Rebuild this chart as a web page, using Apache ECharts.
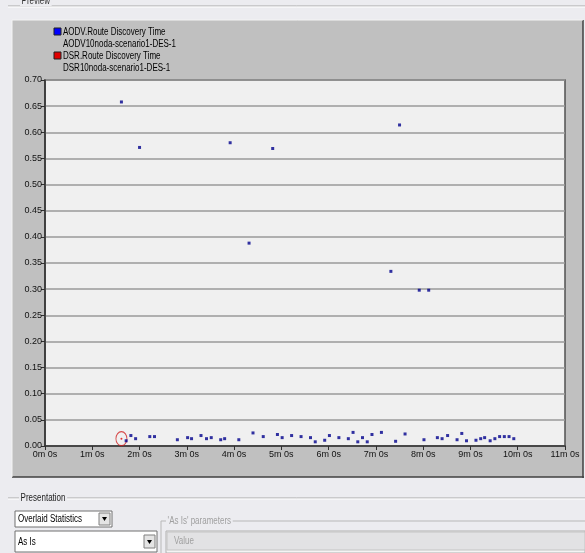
<!DOCTYPE html>
<html>
<head>
<meta charset="utf-8">
<script src="https://cdn.jsdelivr.net/npm/echarts@6/dist/echarts.min.js"></script>
<style>
html,body{margin:0;padding:0;background:#ececf0;}
#c{width:585px;height:553px;}
</style>
</head>
<body>
<div id="c"></div>
<script>
// ---- data (time in seconds, value in seconds) ----
var aodvTimes = [97,103,109,115,120,133,139,168,181,186,198,205,211,223,228,235,246,259,264,277,289,295,301,313,325,337,343,355,361,373,385,391,397,403,409,415,427,439,445,450,457,475,481,487,498,504,511,523,529,535,547,553,558,565,571,577,583,589,595];
var aodvValues = [0.658,0.010,0.020,0.014,0.571,0.018,0.018,0.012,0.016,0.014,0.020,0.014,0.016,0.012,0.014,0.580,0.012,0.388,0.025,0.018,0.569,0.022,0.016,0.020,0.018,0.016,0.008,0.011,0.020,0.016,0.014,0.026,0.008,0.016,0.008,0.022,0.026,0.334,0.009,0.614,0.023,0.298,0.012,0.298,0.016,0.014,0.020,0.012,0.024,0.010,0.011,0.014,0.016,0.010,0.014,0.018,0.018,0.018,0.014];
var dsrTimes = [97];
var dsrValues = [0.014];
var seriesNames = ['AODV.Route Discovery Time','DSR.Route Discovery Time'];
var scenarioNames = ['AODV10noda-scenario1-DES-1','DSR10noda-scenario1-DES-1'];
var xTickMinutes = [0,1,2,3,4,5,6,7,8,9,10,11];

var FONT = '"Liberation Sans Narrow","Liberation Sans",Arial,sans-serif';
var SX = 0.8; // narrow look for UI text
function pairs(xs, ys){ return xs.map(function(x,i){ return [x, ys[i]]; }); }
function txt(x, y, s, fill, extra){
  var st = {text:s, font:'10px '+FONT, fill:fill||'#000', verticalAlign:'middle'};
  if (extra) for (var k in extra) st[k] = extra[k];
  return {type:'text', x:x, y:y, scaleX:SX, style:st};
}

var chart = echarts.init(document.getElementById('c'), null, {renderer:'canvas'});

var graphics = [
  // outer "Preview" groupbox
  {type:'line', shape:{x1:8,y1:6,x2:585,y2:6}, style:{stroke:'#a8a8a8',lineWidth:1}, z:-20},
  {type:'line', shape:{x1:8,y1:7,x2:585,y2:7}, style:{stroke:'#ffffff',lineWidth:1}, z:-20},
  txt(20, 1, 'Preview', '#333', {backgroundColor:'#ececf0', padding:[0,2]}),
  // grey chart panel
  {type:'rect', shape:{x:12,y:20,width:571,height:457}, style:{fill:'#c0c0c0',stroke:null}, z:-10},
  {type:'line', shape:{x1:583,y1:20,x2:583,y2:478}, style:{stroke:'#404040',lineWidth:1.5}, z:-9},
  {type:'line', shape:{x1:12,y1:477,x2:584,y2:477}, style:{stroke:'#404040',lineWidth:1.5}, z:-9},
  {type:'line', shape:{x1:12,y1:20,x2:583,y2:20}, style:{stroke:'#f4f4f4',lineWidth:1}, z:-9},
  {type:'line', shape:{x1:12,y1:20,x2:12,y2:477}, style:{stroke:'#f4f4f4',lineWidth:1}, z:-9},
  // legend
  {type:'rect', shape:{x:54,y:28,width:7,height:7}, style:{fill:'#0000ff',stroke:'#202020',lineWidth:1}},
  txt(63, 32, seriesNames[0]),
  txt(63, 44, scenarioNames[0]),
  {type:'rect', shape:{x:54,y:52,width:7,height:7}, style:{fill:'#e00000',stroke:'#202020',lineWidth:1}},
  txt(63, 56, seriesNames[1]),
  txt(63, 68, scenarioNames[1]),
  // Presentation groupbox
  {type:'line', shape:{x1:8,y1:498,x2:585,y2:498}, style:{stroke:'#a8a8a8',lineWidth:1}},
  {type:'line', shape:{x1:8,y1:499,x2:585,y2:499}, style:{stroke:'#ffffff',lineWidth:1}},
  txt(19, 498, 'Presentation', '#222', {backgroundColor:'#ececf0', padding:[0,2]}),
  // dropdown 1
  {type:'rect', shape:{x:15,y:511,width:97,height:16}, style:{fill:'#ffffff',stroke:'#707070',lineWidth:1}},
  txt(18, 519, 'Overlaid Statistics'),
  {type:'rect', shape:{x:99,y:513,width:11,height:12}, style:{fill:'#e4e4e4',stroke:'#808080',lineWidth:1}},
  {type:'polygon', shape:{points:[[102,517],[107,517],[104.5,521]]}, style:{fill:'#000'}},
  // dropdown 2
  {type:'rect', shape:{x:15,y:531,width:142,height:21}, style:{fill:'#ffffff',stroke:'#707070',lineWidth:1}},
  txt(18, 542, 'As Is'),
  {type:'rect', shape:{x:144,y:535,width:11,height:13}, style:{fill:'#e4e4e4',stroke:'#808080',lineWidth:1}},
  {type:'polygon', shape:{points:[[147,540],[152,540],[149.5,544]]}, style:{fill:'#000'}},
  // 'As Is' parameters groupbox
  {type:'line', shape:{x1:161,y1:521,x2:585,y2:521}, style:{stroke:'#b8b8b8',lineWidth:1}},
  {type:'line', shape:{x1:161,y1:521,x2:161,y2:553}, style:{stroke:'#b8b8b8',lineWidth:1}},
  txt(166, 521, "'As Is' parameters", '#a0a0a0', {backgroundColor:'#ececf0', padding:[0,2]}),
  {type:'rect', shape:{x:166,y:531,width:419,height:22}, style:{fill:'#f4f4f4',stroke:'#b0b0b0',lineWidth:1}},
  {type:'rect', shape:{x:167,y:532,width:418,height:18}, style:{fill:'#e2e2e4',stroke:'#c4c4c4',lineWidth:1}},
  txt(174, 541, 'Value', '#a0a0a0')
];

var option = {
  backgroundColor:'#ececf0',
  animation:false,
  graphic: graphics,
  grid:{left:45, top:80, right:20, bottom:107, show:true, backgroundColor:'#f0f0f0', borderColor:'#505050', borderWidth:1.5, containLabel:false},
  xAxis:{
    type:'value', min:0, max:660, interval:60,
    axisLine:{show:true, lineStyle:{color:'#303030', width:1.5}},
    axisTick:{show:true, length:4, lineStyle:{color:'#303030'}},
    axisLabel:{color:'#111', fontFamily:FONT, fontSize:9, margin:4,
      formatter:function(v){ var m = Math.round(v/60); return xTickMinutes.indexOf(m) >= 0 ? m + 'm 0s' : ''; }},
    splitLine:{show:false}
  },
  yAxis:{
    type:'value', min:0, max:0.70, interval:0.05,
    axisLine:{show:true, lineStyle:{color:'#303030', width:1.5}},
    axisTick:{show:true, length:4, lineStyle:{color:'#303030'}},
    axisLabel:{color:'#111', fontFamily:FONT, fontSize:9, margin:3,
      formatter:function(v){ return v.toFixed(2); }},
    splitLine:{show:true, lineStyle:{color:'#9a9a9a', width:1.5}}
  },
  series:[
    {name:seriesNames[0], type:'scatter', symbol:'rect', symbolSize:3,
      itemStyle:{color:'#00008c'}, data:pairs(aodvTimes, aodvValues), z:5},
    {name:seriesNames[1], type:'scatter', symbol:'circle', symbolSize:2,
      itemStyle:{color:'#e00000'}, data:pairs(dsrTimes, dsrValues), z:6},
    {name:seriesNames[1]+' marker', type:'scatter', symbol:'circle', symbolSize:[11,14],
      itemStyle:{color:'rgba(0,0,0,0)', borderColor:'#d02020', borderWidth:1},
      data:pairs(dsrTimes, dsrValues), z:4}
  ]
};
chart.setOption(option);
</script>
</body>
</html>
